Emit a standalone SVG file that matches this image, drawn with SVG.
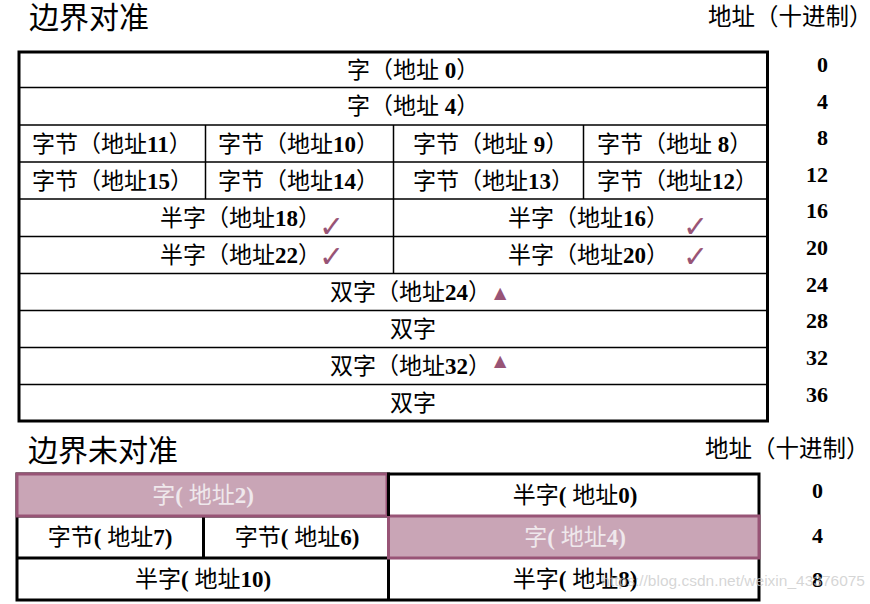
<svg xmlns="http://www.w3.org/2000/svg" width="870" height="604" viewBox="0 0 870 604">
<style>
.t{font-family:"Liberation Serif","Noto Sans CJK SC",serif;font-size:23px;fill:#000}
.d{font-weight:bold}
.title{font-family:"Noto Sans CJK SC",sans-serif;font-size:30px;fill:#000}
.hdr{font-family:"Noto Sans CJK SC",sans-serif;font-size:23.5px;fill:#000}
.num{font-family:"Liberation Serif",serif;font-size:22px;font-weight:bold;fill:#000;text-anchor:end}
.c{text-anchor:middle}
.mk{font-family:"DejaVu Sans",sans-serif;fill:#985476}
.ck{font-size:30px}
.tr{font-size:16px}
.thin{stroke:#000;stroke-width:1.5;fill:none}
.thick{stroke:#000;stroke-width:3;fill:none}
.pink{fill:#C9A5B6;stroke:#985476;stroke-width:3}
.lt{fill:#EFE8EC}
</style>
<rect width="870" height="604" fill="#fff"/>

<g id="titles">
<text class="title" x="29" y="28">边界对准</text>
<text class="hdr" x="708" y="25">地址（十进制）</text>
<text class="title" x="28" y="461">边界未对准</text>
<text class="hdr" x="705" y="457">地址（十进制）</text>
</g>

<g id="aligned-frame">
<rect class="thick" x="19" y="52" width="748.5" height="369"/>
<path class="thin" d="M19 87.5H767 M19 125H767 M19 162H767 M19 199H767 M19 236.5H767 M19 273.5H767 M19 310.5H767 M19 347.5H767 M19 384.5H767 M205.5 125V199 M393.5 125V273.5 M583.5 125V199"/>
</g>

<g id="a-row0"><text class="t" x="347" y="77.5">字（地址 <tspan class="d">0</tspan>）</text></g>
<g id="a-row4"><text class="t" x="347" y="114">字（地址 <tspan class="d">4</tspan>）</text></g>
<g id="a-b11"><text class="t" x="32" y="151.5">字节（地址<tspan class="d">11</tspan>）</text></g>
<g id="a-b10"><text class="t" x="218" y="151.5">字节（地址<tspan class="d">10</tspan>）</text></g>
<g id="a-b9"><text class="t" x="413" y="151.5">字节（地址 <tspan class="d">9</tspan>）</text></g>
<g id="a-b8"><text class="t" x="597" y="151.5">字节（地址 <tspan class="d">8</tspan>）</text></g>
<g id="a-b15"><text class="t" x="32" y="188.5">字节（地址<tspan class="d">15</tspan>）</text></g>
<g id="a-b14"><text class="t" x="218" y="188.5">字节（地址<tspan class="d">14</tspan>）</text></g>
<g id="a-b13"><text class="t" x="413" y="188.5">字节（地址<tspan class="d">13</tspan>）</text></g>
<g id="a-b12"><text class="t" x="597" y="188.5">字节（地址<tspan class="d">12</tspan>）</text></g>
<g id="a-h18"><text class="t" x="160" y="225.5">半字（地址<tspan class="d">18</tspan>）</text><text class="mk ck" x="319" y="237">✓</text></g>
<g id="a-h16"><text class="t" x="508" y="225.5">半字（地址<tspan class="d">16</tspan>）</text><text class="mk ck" x="683" y="237">✓</text></g>
<g id="a-h22"><text class="t" x="160" y="262.5">半字（地址<tspan class="d">22</tspan>）</text><text class="mk ck" x="319" y="267">✓</text></g>
<g id="a-h20"><text class="t" x="508" y="262.5">半字（地址<tspan class="d">20</tspan>）</text><text class="mk ck" x="683" y="267">✓</text></g>
<g id="a-d24"><text class="t" x="330" y="299.5">双字（地址<tspan class="d">24</tspan>）</text><text class="mk tr" x="494" y="298">▲</text></g>
<g id="a-d28"><text class="t" x="390" y="336.5">双字</text></g>
<g id="a-d32"><text class="t" x="330" y="373.5">双字（地址<tspan class="d">32</tspan>）</text><text class="mk tr" x="494" y="366">▲</text></g>
<g id="a-d36"><text class="t" x="390" y="410.5">双字</text></g>

<g id="a-addr">
<text class="num" x="828" y="72">0</text>
<text class="num" x="828" y="109">4</text>
<text class="num" x="828" y="145">8</text>
<text class="num" x="828" y="182">12</text>
<text class="num" x="828" y="218">16</text>
<text class="num" x="828" y="255">20</text>
<text class="num" x="828" y="292">24</text>
<text class="num" x="828" y="328">28</text>
<text class="num" x="828" y="365">32</text>
<text class="num" x="828" y="402">36</text>
</g>

<g id="unaligned-frame">
<rect class="thick" x="17" y="474" width="742" height="126"/>
<path class="thick" d="M388.5 474V600 M17 558H388 M203.5 516V558 M17 516H388"/>
</g>
<g id="u-w4"><rect class="pink" x="388.5" y="516" width="370.5" height="42"/><text class="t c lt" x="575" y="545">字<tspan class="d">( </tspan>地址<tspan class="d">4)</tspan></text></g>
<g id="u-w2"><rect class="pink" x="17" y="474" width="370" height="42"/><path class="thick" d="M388.5 472.5V516"/><text class="t c lt" x="203" y="503">字<tspan class="d">( </tspan>地址<tspan class="d">2)</tspan></text></g>
<g id="u-h0"><text class="t c" x="575" y="503">半字<tspan class="d">( </tspan>地址<tspan class="d">0)</tspan></text></g>
<g id="u-b7"><text class="t c" x="110" y="545">字节<tspan class="d">( </tspan>地址<tspan class="d">7)</tspan></text></g>
<g id="u-b6"><text class="t c" x="297" y="545">字节<tspan class="d">( </tspan>地址<tspan class="d">6)</tspan></text></g>
<g id="u-h10"><text class="t c" x="203" y="587">半字<tspan class="d">( </tspan>地址<tspan class="d">10)</tspan></text></g>
<g id="u-h8"><text class="t c" x="575" y="587">半字<tspan class="d">( </tspan>地址<tspan class="d">8)</tspan></text></g>

<g id="u-addr">
<text class="num" x="823" y="498">0</text>
<text class="num" x="823" y="543">4</text>
<text class="num" x="823" y="587">8</text>
</g>

<text x="865" y="586" font-family="Liberation Sans,sans-serif" font-size="15.5" fill="#c8c8c8" fill-opacity="0.75" text-anchor="end">https://blog.csdn.net/weixin_43376075</text>
</svg>
